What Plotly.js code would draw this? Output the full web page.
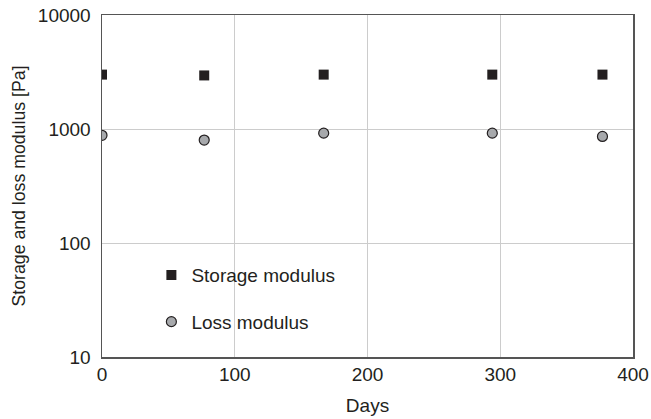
<!DOCTYPE html>
<html><head><meta charset="utf-8">
<script src="https://cdn.plot.ly/plotly-3.0.1.min.js"></script>
<style>html,body{margin:0;padding:0;background:#fff}#c{width:651px;height:419px}</style>
</head><body><div id="c"></div>
<script>
const days = [0, 77, 167, 294, 377];
const storageModulus = [3000, 2950, 3000, 3000, 3000];
const lossModulus = [880, 800, 920, 920, 860];
const yTickVals = [10, 100, 1000, 10000];
const yTickText = ["10", "100", "1000", "10000"];
const xTickVals = [0, 100, 200, 300, 400];

const fam = "Liberation Sans, Arial, sans-serif";
const tickFont = {family: fam, size: 19, color: "#231f20"};
const legFont = {family: fam, size: 19, color: "#231f20"};
const xTitleFont = {family: fam, size: 19, color: "#231f20"};
const yTitleFont = {family: fam, size: 17.7, color: "#231f20"};
const traces = [
  {x: days, y: storageModulus, type: "scatter", mode: "markers", name: "Storage modulus",
   legendgroup: "a",
   marker: {symbol: "square", size: 10, color: "#231f20", line: {width: 0}}},
  {x: days, y: lossModulus, type: "scatter", mode: "markers", name: "Loss modulus",
   legendgroup: "b",
   marker: {symbol: "circle", size: 10, color: "#a7a9ac", line: {width: 1.2, color: "#231f20"}}}
];
const layout = {
  width: 651, height: 419,
  margin: {l: 102, r: 18, t: 15, b: 62},
  paper_bgcolor: "#fff", plot_bgcolor: "#fff",
  font: tickFont,
  showlegend: true,
  legend: {x: 0.093, y: 0.295, xanchor: "left", yanchor: "top", bgcolor: "rgba(0,0,0,0)",
           font: legFont, tracegroupgap: 19, itemwidth: 30},
  xaxis: {range: [0, 400], tickvals: xTickVals, showgrid: true, gridcolor: "#cccccc", gridwidth: 1,
          showline: true, linecolor: "#555", linewidth: 1.5, mirror: true, zeroline: false,
          ticks: "", tickfont: tickFont,
          title: {text: "Days", font: xTitleFont, standoff: 14}},
  yaxis: {type: "log", range: [1, 4], tickvals: yTickVals, ticktext: yTickText,
          showgrid: true, gridcolor: "#cccccc", gridwidth: 1,
          showline: true, linecolor: "#555", linewidth: 1.5, mirror: true, zeroline: false,
          ticks: "", tickfont: tickFont, ticklabelstandoff: 6,
          title: {text: "Storage and loss modulus [Pa]", font: yTitleFont, standoff: 7}}
};
Plotly.newPlot("c", traces, layout, {displayModeBar: false, staticPlot: true});
</script></body></html>
